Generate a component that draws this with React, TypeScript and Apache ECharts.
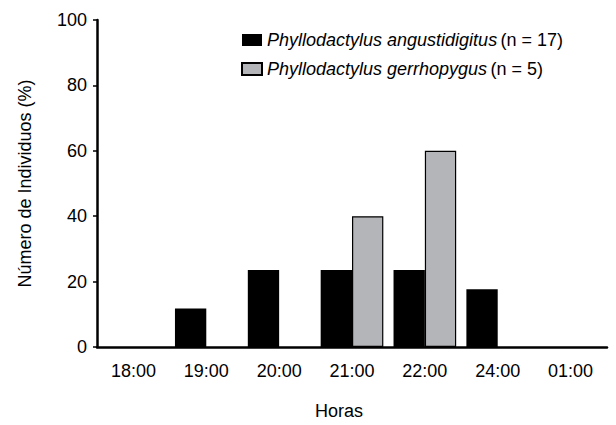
import React, { useEffect, useRef } from "react";
import * as echarts from "echarts";

const categories = ["18:00", "19:00", "20:00", "21:00", "22:00", "24:00", "01:00"];
const angustidigitus = [0, 11.76, 23.53, 23.53, 23.53, 17.65, 0];
const gerrhopygus = [0, 0, 0, 40, 60, 0, 0];
const seriesNames = ["Phyllodactylus angustidigitus", "Phyllodactylus gerrhopygus"];
const seriesCounts = ["(n = 17)", "(n = 5)"];
const yTicks = { min: 0, max: 100, interval: 20 };

const FONT = "'Liberation Sans', Arial, sans-serif";

export default function App() {
  const ref = useRef<HTMLDivElement>(null);
  useEffect(() => {
    if (!ref.current) return;
    const chart = echarts.init(ref.current, undefined, { renderer: "svg" });
    const hideZero = (arr: number[]) => arr.map((v) => (v === 0 ? null : v));
    chart.setOption({
      animation: false,
      backgroundColor: "#ffffff",
      grid: { left: 97, right: 9, top: 20, bottom: 71 },
      legend: {
        orient: "vertical",
        left: 236,
        top: 26,
        icon: "rect",
        itemWidth: 20,
        itemHeight: 12,
        itemGap: 11,
        data: seriesNames,
        formatter: (name: string) => {
          const i = seriesNames.indexOf(name);
          return "{i|" + name + "} {n|" + seriesCounts[i] + "}";
        },
        textStyle: {
          rich: {
            i: { fontStyle: "italic", fontFamily: FONT, fontSize: 18, color: "#000" },
            n: { fontFamily: FONT, fontSize: 18, color: "#000" },
          },
        },
      },
      xAxis: {
        type: "category",
        data: categories,
        name: "Horas",
        nameLocation: "middle",
        nameGap: 55,
        nameTextStyle: { fontFamily: FONT, fontSize: 18, color: "#000", padding: [0, 26, 0, 0] },
        axisLine: { lineStyle: { color: "#000", width: 2.5 } },
        axisTick: { length: 5, lineStyle: { color: "#000", width: 1.5 } },
        axisLabel: { fontFamily: FONT, fontSize: 18, color: "#000", margin: 15 },
      },
      yAxis: {
        type: "value",
        min: yTicks.min,
        max: yTicks.max,
        interval: yTicks.interval,
        name: "Número de Individuos (%)",
        nameLocation: "middle",
        nameGap: 63,
        nameTextStyle: { fontFamily: FONT, fontSize: 18, color: "#000" },
        splitLine: { show: false },
        axisLine: { show: true, lineStyle: { color: "#000", width: 2.5 } },
        axisTick: { show: true, length: 4, lineStyle: { color: "#000", width: 1.5 } },
        axisLabel: { fontFamily: FONT, fontSize: 18, color: "#000", margin: 10 },
      },
      series: [
        {
          name: seriesNames[0],
          type: "bar",
          data: hideZero(angustidigitus),
          barGap: "0%",
          barCategoryGap: "14%",
          itemStyle: { color: "#000000" },
        },
        {
          name: seriesNames[1],
          type: "bar",
          data: hideZero(gerrhopygus),
          barGap: "0%",
          barCategoryGap: "14%",
          itemStyle: { color: "#b4b5b9", borderColor: "#000", borderWidth: 1.2 },
        },
      ],
    });
    return () => chart.dispose();
  }, []);
  return (
    <div
      ref={ref}
      style={{ position: "fixed", left: 0, top: 0, width: 616, height: 425, background: "#fff" }}
    />
  );
}
